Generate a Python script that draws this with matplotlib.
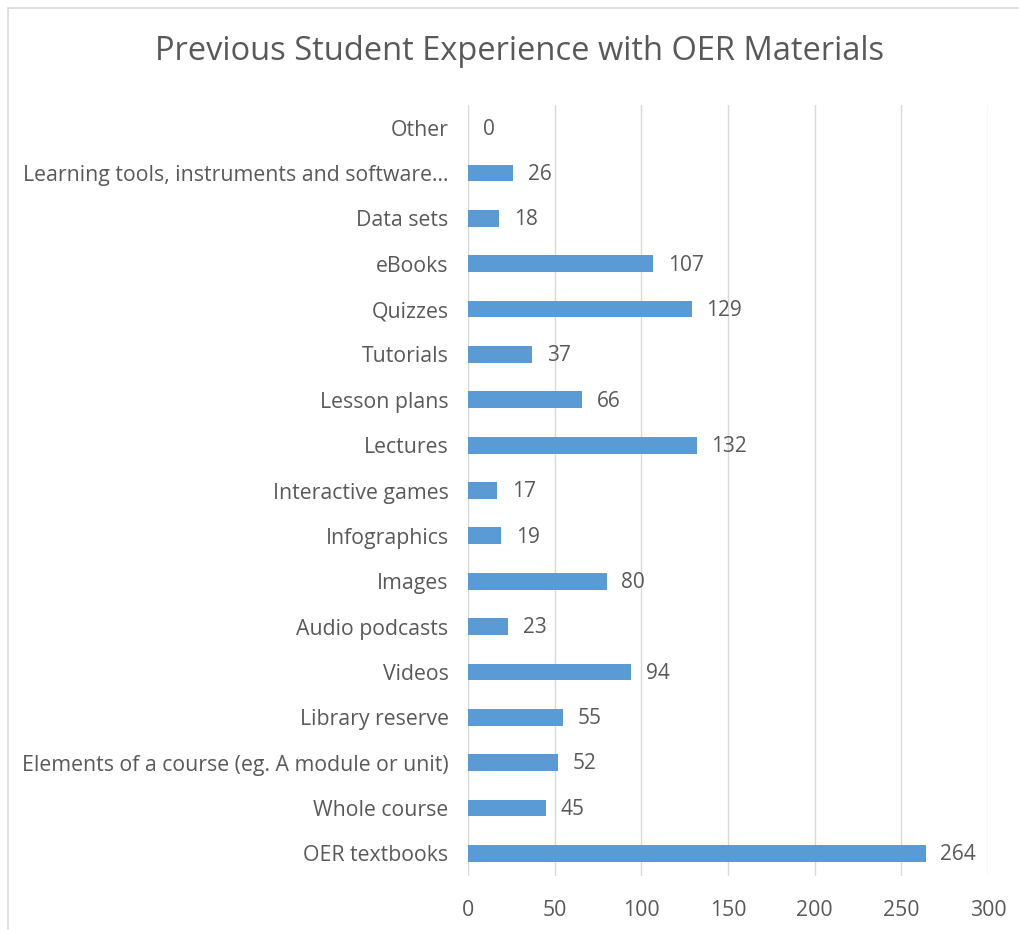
import matplotlib
matplotlib.use("Agg")
import matplotlib.pyplot as plt
from matplotlib.patches import Rectangle

# categories from bottom to top, as they appear on the chart
categories = [
    "OER textbooks",
    "Whole course",
    "Elements of a course (eg. A module or unit)",
    "Library reserve",
    "Videos",
    "Audio podcasts",
    "Images",
    "Infographics",
    "Interactive games",
    "Lectures",
    "Lesson plans",
    "Tutorials",
    "Quizzes",
    "eBooks",
    "Data sets",
    "Learning tools, instruments and software...",
    "Other",
]
counts = [264, 45, 52, 55, 94, 23, 80, 19, 17, 132, 66, 37, 129, 107, 18, 26, 0]
x_ticks = [0, 50, 100, 150, 200, 250, 300]

BAR = "#5B9BD5"
TEXT = "#595959"
GRID = "#D9D9D9"

plt.rcParams["font.family"] = ["Open Sans", "DejaVu Sans"]

fig = plt.figure(figsize=(10.19, 9.30), dpi=100)
fig.patches.append(Rectangle((8 / 1019, -0.01), 1.02, 1 - 8 / 930 + 0.01,
                             transform=fig.transFigure, fill=False,
                             edgecolor="#D9D9D9", linewidth=1.2))

ax = fig.add_axes([468 / 1019, 54 / 930, 520 / 1019, 771 / 930])
y = list(range(len(categories)))
ax.barh(y, counts, height=0.37, color=BAR, zorder=3)
for yi, v in zip(y, counts):
    ax.text(v + 8.5, yi - 0.03, str(v), va="center", ha="left", fontsize=15, color=TEXT)

ax.set_xlim(0, 300)
ax.set_ylim(-0.5, len(categories) - 0.5)
ax.set_xticks(x_ticks)
ax.set_xticklabels([str(t) for t in x_ticks])
ax.set_yticks(y)
ax.set_yticklabels(categories)
ax.tick_params(axis="both", length=0, labelsize=15.3, labelcolor=TEXT)
ax.tick_params(axis="x", pad=17)
ax.tick_params(axis="y", pad=14)
ax.grid(axis="x", color=GRID, linewidth=1, zorder=0)
for s in ax.spines.values():
    s.set_visible(False)

fig.text(520 / 1019, 1 - 52 / 930, "Previous Student Experience with OER Materials",
         ha="center", va="center", fontsize=23.5, color=TEXT)

fig.savefig("out.png", dpi=100)
